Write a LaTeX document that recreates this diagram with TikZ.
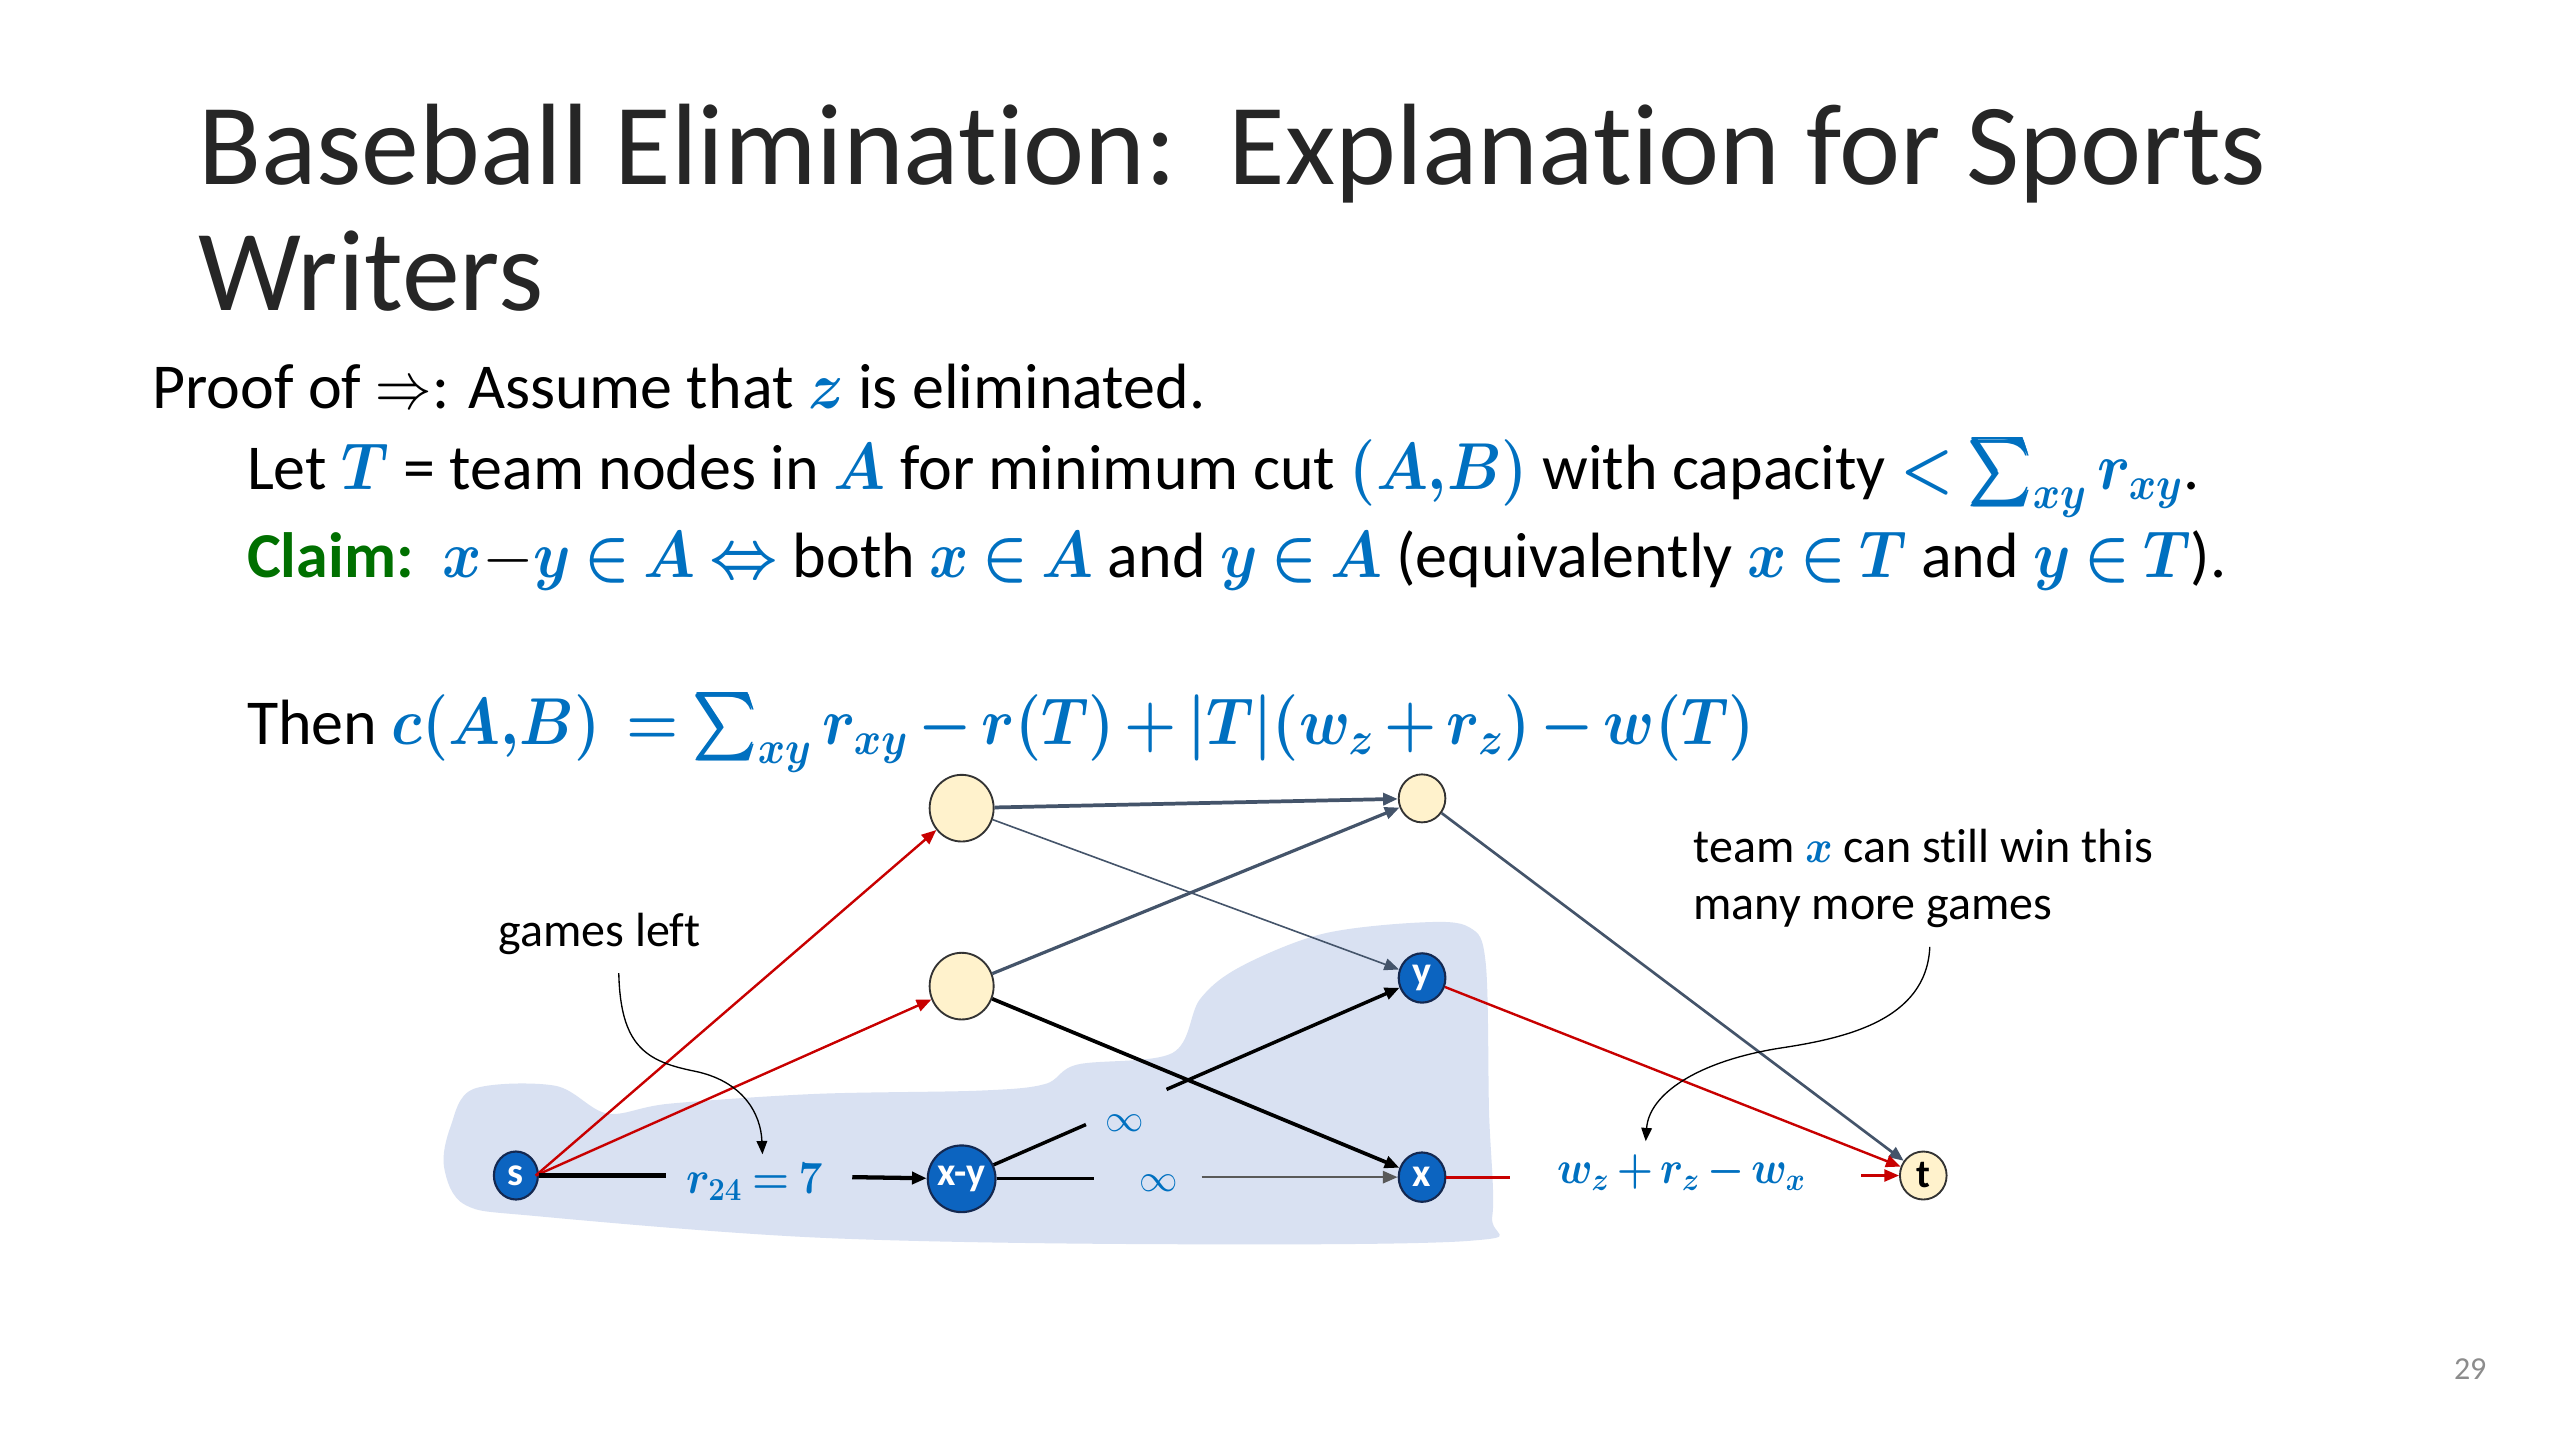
\documentclass[tikz,border=0pt]{standalone}
\usepackage[no-math]{fontspec}
\setmainfont[Ligatures=NoCommon]{Carlito}
\usepackage{amsmath,bm}
\usetikzlibrary{shapes.geometric,arrows.meta,calc}
\definecolor{mblue}{RGB}{0,112,192}
\definecolor{nblue}{RGB}{12,100,192}
\definecolor{nborder}{RGB}{20,40,80}
\definecolor{cream}{RGB}{255,242,204}
\definecolor{slate}{RGB}{68,84,106}
\definecolor{myred}{RGB}{200,0,0}
\definecolor{cgreen}{RGB}{0,112,0}
\definecolor{blob}{RGB}{217,225,242}
\definecolor{titlegray}{RGB}{38,38,38}
\thickmuskip=4mu plus 2mu
\medmuskip=3mu plus 1mu
\newcommand\bl[1]{\textcolor{mblue}{\scalebox{0.9}[1]{$\bm{#1}$}}}
\tikzset{
  tnode/.style={ellipse,draw=nborder,line width=0.8pt,fill=nblue,text=white,font=\fontsize{15}{15}\selectfont\bfseries,inner sep=0pt,minimum width=17.5pt,minimum height=18.5pt},
  gnode/.style={ellipse,draw=black!80,line width=0.7pt,fill=cream,inner sep=0pt,minimum width=24pt,minimum height=25pt},
  snode/.style={ellipse,draw=black!80,line width=0.7pt,fill=cream,inner sep=0pt,minimum width=17.5pt,minimum height=18pt,font=\fontsize{15}{15}\selectfont\bfseries},
  arr/.style={-{Triangle[length=5.5pt,width=4.5pt]}},
  redarr/.style={arr,draw=myred,line width=0.9pt},
  lab/.style={font=\fontsize{18}{22}\selectfont,anchor=base west,inner sep=0pt},
  body/.style={font=\fontsize{24}{28}\selectfont,anchor=base west,inner sep=0pt},
  mlab/.style={inner sep=0pt,font=\fontsize{18}{22}\selectfont,text=mblue},
}
\begin{document}
\begin{tikzpicture}[x=0.6122pt,y=-0.6122pt]
\useasboundingbox[fill=white] (0,0) rectangle (1568,882);
% blob
\fill[blob] plot[smooth cycle,tension=0.55] coordinates {
 (276,690) (290,667) (340,665) (372,682) (410,676) (500,670) (600,668) (640,664) (660,652)
 (718,645) (735,612) (760,592) (810,572) (870,565) (900,568) (910,590) (912,680) (914,745)
 (900,760) (700,762) (500,758) (330,745) (285,738) (272,715)};
% title
\node[anchor=base west,inner sep=0pt,text=titlegray,font=\fontsize{43.4}{52}\selectfont] (title1) at (121,113) {Baseball Elimination:\ \ Explanation for Sports};
\node[anchor=base west,inner sep=0pt,text=titlegray,font=\fontsize{43.4}{52}\selectfont] (title2) at (121,190) {Writers};
% body
\node[body] (l1) at (93,250) {Proof of \scalebox{0.85}[1]{$\Rightarrow$}: Assume that \bl{z} is eliminated.};
\node[body] (l2) at (151,300) {Let \bl{T} = team nodes in \bl{A} for minimum cut \bl{(A{,}B)} with capacity \bl{<\textstyle\sum_{xy}r_{xy}}.};
\node[body] (l3) at (151,354) {\textcolor{cgreen}{\bfseries Claim:}\ \ \bl{x}$-$\bl{y\in A}\ \bl{\Leftrightarrow}\ both \bl{x\in A} and \bl{y\in A} (equivalently \bl{x\in T} and \bl{y\in T}).};
\node[body] (l4) at (151,456) {Then \bl{c(A{,}B)\ =\textstyle\sum_{xy}r_{xy}-r(T)+|T|(w_z+r_z)-w(T)}};
% nodes
\node[tnode,minimum width=16.5pt,minimum height=18pt] (s) at (316,720) {s};
\node[tnode,minimum width=24pt,minimum height=25pt] (xy) at (589,722) {x-y};
\node[gnode] (g1) at (589,495) {};
\node[gnode] (g2) at (589,604) {};
\node[snode] (z) at (871,489) {};
\node[tnode] (y) at (871,599) {y};
\node[tnode] (x) at (871,721) {x};
\node[snode] (t) at (1178,720) {t};
% labels
\node[mlab] (r24) at (462,724) {\scalebox{0.92}[1]{$\bm{r_{24}=7}$}};
\node[mlab,font=\fontsize{14}{16}\selectfont] (inf1) at (689,688) {$\infty$};
\node[mlab,font=\fontsize{14}{16}\selectfont] (inf2) at (710,725) {$\infty$};
\node[mlab] (wl) at (1030,718) {\bl{w_z+r_z-w_x}};
\node[lab] (gl) at (305,580) {games left};
\node[lab] (tx1) at (1037,528) {team \bl{x} can still win this};
\node[lab] (tx2) at (1037,563) {many more games};
\node[anchor=base,inner sep=0pt,text=black!45,font=\fontsize{12}{14}\selectfont] (pg) at (1513,845) {29};
% edges
\coordinate (se) at ($(s.east)+(-2,0)$);
\draw[redarr] (se) -- (g1);
\draw[redarr] (se) -- (g2);
\coordinate (ra) at (408,720);
\coordinate (rb) at (522,721);
\draw[black,line width=1.6pt] (s) -- (ra);
\draw[black,line width=1.6pt,arr] (rb) -- (xy);
\coordinate (a1) at ($(xy)!0.27!(y)$);
\coordinate (a2) at ($(xy)!0.445!(y)$);
\draw[black,line width=1.3pt] (xy) -- (a1);
\draw[black,line width=1.3pt,arr] (a2) -- (y);
\coordinate (b1) at (670,722);
\coordinate (b2) at (736,721);
\draw[black,line width=1pt] (xy) -- (b1);
\draw[black!65,line width=1pt,arr] (b2) -- (x);
\draw[black,line width=1.4pt,arr] (g2) -- (x);
\draw[slate,line width=1.2pt,arr] (g2) -- (z);
\draw[slate,line width=1.4pt,arr] (g1) -- (z);
\draw[slate,line width=0.6pt,arr] (g1) -- (y);
\draw[slate,line width=1pt,arr] (z) -- (t);
\draw[redarr] (y) -- (t);
\coordinate (c1) at (925,721);
\coordinate (c2) at (1140,720);
\draw[myred,line width=1.1pt] (x) -- (c1);
\draw[redarr] (c2) -- (t);
% annotation curves
\draw[black,line width=0.5pt,-{Triangle[length=5pt,width=4pt]}] (379,596) .. controls (380,640) and (395,650) .. (425,656) .. controls (455,662) and (466,682) .. (467,707);
\draw[black,line width=0.5pt,-{Triangle[length=5pt,width=4pt]}] (1182,580) .. controls (1180,625) and (1130,636) .. (1090,642) .. controls (1040,650) and (1010,670) .. (1008,699);
\end{tikzpicture}
\end{document}
